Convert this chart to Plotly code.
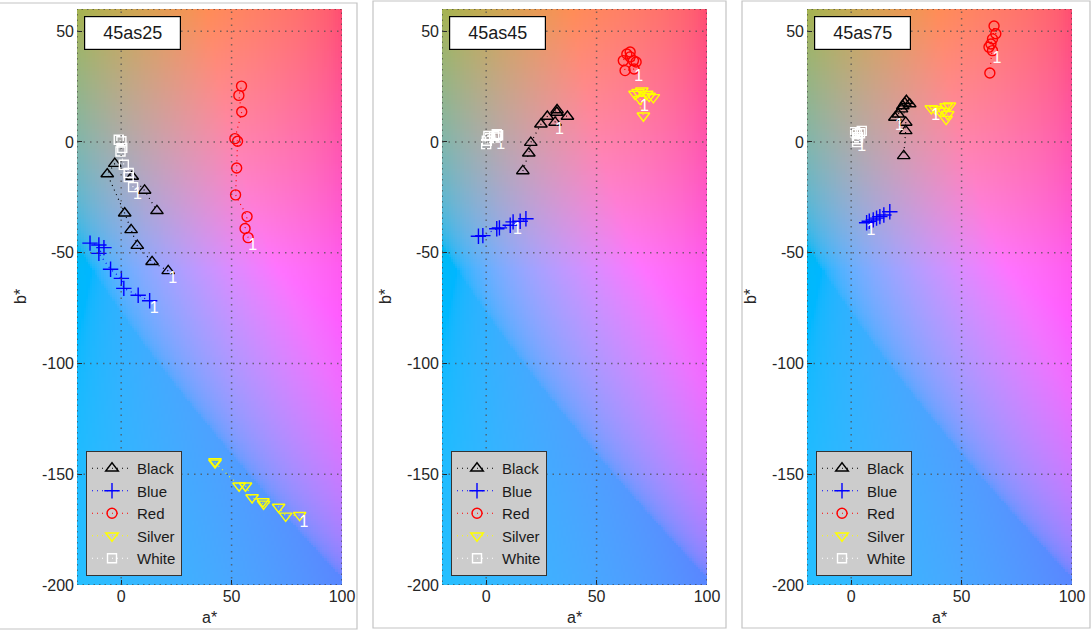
import numpy as np
import plotly.graph_objects as go

# ---------------- data ----------------
panel_titles = ["45as25", "45as45", "45as75"]
series_names = ["Black", "Blue", "Red", "Silver", "White"]

# panel 1 : 45as25
p1_black_a = [21.3, 14.0, 7.3, 4.5, 1.6, -6.3, -2.9, 5.0, 10.6, 16.2]
p1_black_b = [-58.2, -54.1, -46.8, -39.7, -32.2, -14.5, -9.8, -15.6, -21.9, -31.1]
p1_blue_a = [12.9, 7.7, 1.2, 0.1, -4.8, -10.1, -7.8, -10.1, -14.1]
p1_blue_b = [-71.7, -69.2, -66.1, -61.6, -57.5, -50.3, -47.7, -46.5, -45.7]
p1_red_a = [57.5, 56.1, 57.0, 51.8, 52.3, 52.7, 51.5, 54.6, 53.3, 54.5]
p1_red_b = [-43.2, -39.1, -33.7, -23.9, -11.8, 0.3, 1.5, 13.6, 21.0, 25.2]
p1_silver_a = [80.8, 74.5, 71.3, 64.2, 64.5, 59.3, 56.3, 53.4, 42.5, 42.5]
p1_silver_b = [-168.5, -168.8, -164.8, -162.3, -163.4, -160.5, -155.2, -155.2, -144.8, -144.2]
p1_white_a = [5.4, 3.4, 3.4, 1.2, -0.3, 0.5, 0.1, -1.1]
p1_white_b = [-20.4, -15.9, -14.0, -10.3, -4.3, -2.7, 0.3, 1.0]

# panel 2 : 45as45
p2_black_a = [31.2, 32.0, 36.8, 32.1, 27.7, 24.8, 20.2, 19.3, 16.6]
p2_black_b = [8.8, 13.3, 11.5, 14.4, 11.5, 8.0, -0.3, -5.1, -13.1]
p2_blue_a = [12.2, 15.4, 18.0, 10.9, 6.0, 4.8, -1.5, -3.5]
p2_blue_b = [-36.1, -35.8, -34.7, -37.6, -38.8, -39.2, -42.3, -42.6]
p2_red_a = [67.0, 62.9, 62.1, 63.7, 65.2, 66.7, 67.9, 65.2]
p2_red_b = [32.9, 32.2, 36.7, 39.7, 40.6, 36.7, 36.1, 38.4]
p2_silver_a = [69.7, 71.2, 67.4, 70.5, 72.7, 75.7, 68.8, 73.8]
p2_silver_b = [19.3, 11.8, 21.6, 23.1, 21.6, 20.1, 22.5, 20.7]
p2_white_a = [4.6, 0.3, 1.0, 3.6, 0.0, 1.8, 5.4, 4.8]
p2_white_b = [2.0, 0.5, 2.7, 2.6, -1.0, 1.7, 3.0, 3.5]

# panel 3 : 45as75
p3_black_a = [19.8, 21.3, 22.8, 25.0, 26.5, 24.3, 23.4, 24.7, 24.7, 23.8]
p3_black_b = [11.0, 12.5, 14.8, 18.6, 17.1, 17.5, 16.2, 8.8, 5.0, -6.3]
p3_blue_a = [7.0, 8.2, 10.0, 11.5, 13.0, 14.8, 17.5]
p3_blue_b = [-36.5, -35.8, -35.2, -34.4, -33.7, -33.0, -31.5]
p3_red_a = [64.0, 62.4, 63.3, 64.0, 65.5, 64.7, 62.8]
p3_red_b = [41.2, 42.8, 44.2, 46.5, 48.8, 52.3, 31.1]
p3_silver_a = [36.3, 38.2, 40.0, 41.8, 43.0, 44.5, 43.7, 43.0]
p3_silver_b = [15.1, 14.8, 14.0, 13.9, 16.0, 16.3, 12.5, 10.3]
p3_white_a = [2.7, 2.6, 4.8, 3.1, 1.8, 4.0, 2.7]
p3_white_b = [1.2, 3.5, 5.0, 2.1, 4.4, 3.9, -0.1]

x_ticks = [0, 50, 100]
y_ticks = [50, 0, -50, -100, -150, -200]
x_range = [-20, 100]
y_range = [-200, 60]
lightness = 70

panels = [
    [(p1_black_a, p1_black_b), (p1_blue_a, p1_blue_b), (p1_red_a, p1_red_b),
     (p1_silver_a, p1_silver_b), (p1_white_a, p1_white_b)],
    [(p2_black_a, p2_black_b), (p2_blue_a, p2_blue_b), (p2_red_a, p2_red_b),
     (p2_silver_a, p2_silver_b), (p2_white_a, p2_white_b)],
    [(p3_black_a, p3_black_b), (p3_blue_a, p3_blue_b), (p3_red_a, p3_red_b),
     (p3_silver_a, p3_silver_b), (p3_white_a, p3_white_b)],
]

# ---------------- styles ----------------
styles = {
    "Black": dict(color="black", symbol="triangle-up-open", size=11),
    "Blue": dict(color="blue", symbol="cross-thin-open", size=11),
    "Red": dict(color="red", symbol="circle-open", size=10),
    "Silver": dict(color="yellow", symbol="triangle-down-open", size=11),
    "White": dict(color="white", symbol="square-open", size=9),
}
FONT = "Liberation Sans, Arial, sans-serif"
W, H = 1092, 630


# ---------------- Lab background ----------------
def lab_to_linear(L, a, b):
    fy = (L + 16) / 116.0
    fx = fy + a / 500.0
    fz = fy - b / 200.0
    d = 6 / 29

    def finv(t):
        return np.where(t > d, t ** 3, 3 * d * d * (t - 4 / 29))

    X = 0.95047 * finv(fx)
    Y = finv(fy) * np.ones_like(a)
    Z = 1.08883 * finv(fz)
    R = 3.2406 * X - 1.5372 * Y - 0.4986 * Z
    G = -0.9689 * X + 1.8758 * Y + 0.0415 * Z
    B = 0.0557 * X - 0.2040 * Y + 1.0570 * Z
    return np.stack([R, G, B], axis=-1)


def encode(lin):
    lin = np.clip(lin, 0, 1)
    return np.where(lin <= 0.0031308, 12.92 * lin, 1.055 * lin ** (1 / 2.4) - 0.055)


def lab_background(L, a, b):
    b = 0.8 * b
    clipped = encode(lab_to_linear(L, a, b))
    lo = np.zeros_like(a)
    hi = np.ones_like(a)
    for _ in range(24):
        mid = (lo + hi) / 2
        lin = lab_to_linear(L, a * mid, b * mid)
        ok = np.all((lin >= -1e-6) & (lin <= 1 + 1e-6), axis=-1)
        lo = np.where(ok, mid, lo)
        hi = np.where(ok, hi, mid)
    mapped = encode(lab_to_linear(L, a * lo, b * lo))
    mix = 0.5 * clipped + 0.5 * mapped
    return np.round(mix * 255).astype(np.uint8)


step = 1.0
ga = np.arange(x_range[0] + step / 2, x_range[1], step)
gb = np.arange(y_range[0] + step / 2, y_range[1], step)
AA, BB = np.meshgrid(ga, gb)
bg = lab_background(lightness, AA, BB)

# ---------------- layout geometry (pixels) ----------------
plot_left = [77, 442, 807]
plot_w = 265
plot_top, plot_bottom = 9, 585
panel_boxes = [(-1, 3, 357, 629), (373, 1, 726, 628), (742, 1, 1090, 628)]

fig = go.Figure()
layout = dict(
    width=W, height=H, margin=dict(l=0, r=0, t=0, b=0),
    paper_bgcolor="white", plot_bgcolor="white",
    font=dict(family=FONT, size=16, color="#262626"),
    shapes=[], annotations=[],
)
grid_line = dict(color="rgba(80,80,80,0.75)", width=1.5, dash="1.5px,5px")

for i, series in enumerate(panels):
    k = "" if i == 0 else str(i + 1)
    xa, ya = "x" + k, "y" + k
    x0p = plot_left[i] / W
    x1p = (plot_left[i] + plot_w) / W
    y0p = 1 - plot_bottom / H
    y1p = 1 - plot_top / H
    axis_common = dict(
        ticks="inside", ticklen=5, tickcolor="#262626", showgrid=False,
        zeroline=False, showline=False, autorange=False, automargin=False,
        tickfont=dict(family=FONT, size=16, color="#262626"),
    )
    layout["xaxis" + k] = dict(axis_common, domain=[x0p, x1p], range=x_range,
                               tickvals=x_ticks, ticktext=[str(t) for t in x_ticks],
                               anchor=ya)
    layout["yaxis" + k] = dict(axis_common, domain=[y0p, y1p], range=y_range,
                               tickvals=y_ticks, ticktext=[str(t) for t in y_ticks],
                               anchor=xa, scaleanchor=False, ticklabelstandoff=2)

    fig.add_trace(go.Image(z=bg, x0=ga[0], dx=step, y0=gb[0], dy=step,
                           xaxis=xa, yaxis=ya, zsmooth="fast", hoverinfo="skip"))

    # dotted grid on top of image
    for t in x_ticks:
        if x_range[0] < t < x_range[1]:
            layout["shapes"].append(dict(type="line", xref=xa, yref=ya, x0=t, x1=t,
                                         y0=y_range[0], y1=y_range[1], layer="above",
                                         line=grid_line))
    for t in y_ticks:
        if y_range[0] < t < y_range[1]:
            layout["shapes"].append(dict(type="line", xref=xa, yref=ya, y0=t, y1=t,
                                         x0=x_range[0], x1=x_range[1], layer="above",
                                         line=grid_line))
    # dotted axes box
    layout["shapes"].append(dict(type="rect", xref=xa, yref=ya, x0=x_range[0], x1=x_range[1],
                                 y0=y_range[0], y1=y_range[1], layer="above",
                                 line=dict(color="rgba(60,60,60,0.8)", width=1.5, dash="1.5px,4px")))
    # panel frame
    bx0, by0, bx1, by1 = panel_boxes[i]
    layout["shapes"].append(dict(type="rect", xref="paper", yref="paper",
                                 x0=bx0 / W, x1=bx1 / W, y0=1 - by1 / H, y1=1 - by0 / H,
                                 line=dict(color="#c4c4c4", width=1.2)))

    leg = "legend" + k
    for name, (a_vals, b_vals) in zip(series_names, series):
        st = styles[name]
        fig.add_trace(go.Scatter(
            x=a_vals, y=b_vals, mode="lines+markers", name=name,
            xaxis=xa, yaxis=ya, legend=leg,
            line=dict(color=st["color"], width=1.2, dash="1px,4px"),
            marker=dict(symbol=st["symbol"], size=st["size"], color=st["color"],
                        line=dict(color=st["color"], width=1.4)),
        ))
    for name, (a_vals, b_vals) in zip(series_names, series):
        fig.add_trace(go.Scatter(
            x=[a_vals[0]], y=[b_vals[0]], mode="text", text=["1"],
            textposition="bottom right", showlegend=False, hoverinfo="skip",
            textfont=dict(color="white", size=16, family=FONT),
            xaxis=xa, yaxis=ya,
        ))

    layout[leg] = dict(
        x=(plot_left[i] + 9) / W, y=1 - 576 / H, xanchor="left", yanchor="bottom",
        bgcolor="#cccccc", bordercolor="#333333", borderwidth=1,
        font=dict(family=FONT, size=15, color="#1a1a1a"),
        tracegroupgap=0, itemwidth=40,
    )
    layout["annotations"].append(dict(
        text=panel_titles[i], xref="paper", yref="paper",
        x=(plot_left[i] + 7) / W, y=1 - 16 / H, xanchor="left", yanchor="top",
        showarrow=False, bgcolor="white", bordercolor="black", borderwidth=1.2,
        width=91, height=28, borderpad=2,
        font=dict(family=FONT, size=18, color="#1a1a1a"),
    ))
    # axis titles
    layout["annotations"].append(dict(
        text="a*", xref="paper", yref="paper",
        x=(plot_left[i] + plot_w / 2) / W, y=1 - 617 / H, xanchor="center", yanchor="middle",
        showarrow=False, font=dict(family=FONT, size=16, color="#262626"),
    ))
    layout["annotations"].append(dict(
        text="b*", xref="paper", yref="paper", textangle=-90,
        x=(plot_left[i] - 57) / W, y=1 - (plot_top + plot_bottom) / 2 / H,
        xanchor="center", yanchor="middle",
        showarrow=False, font=dict(family=FONT, size=16, color="#262626"),
    ))

fig.update_layout(**layout)
fig.write_html(
    "out.html",
    config={"displayModeBar": False},
    post_script="document.body.style.margin='0';document.body.style.padding='0';"
                "document.body.style.overflow='hidden';",
)
